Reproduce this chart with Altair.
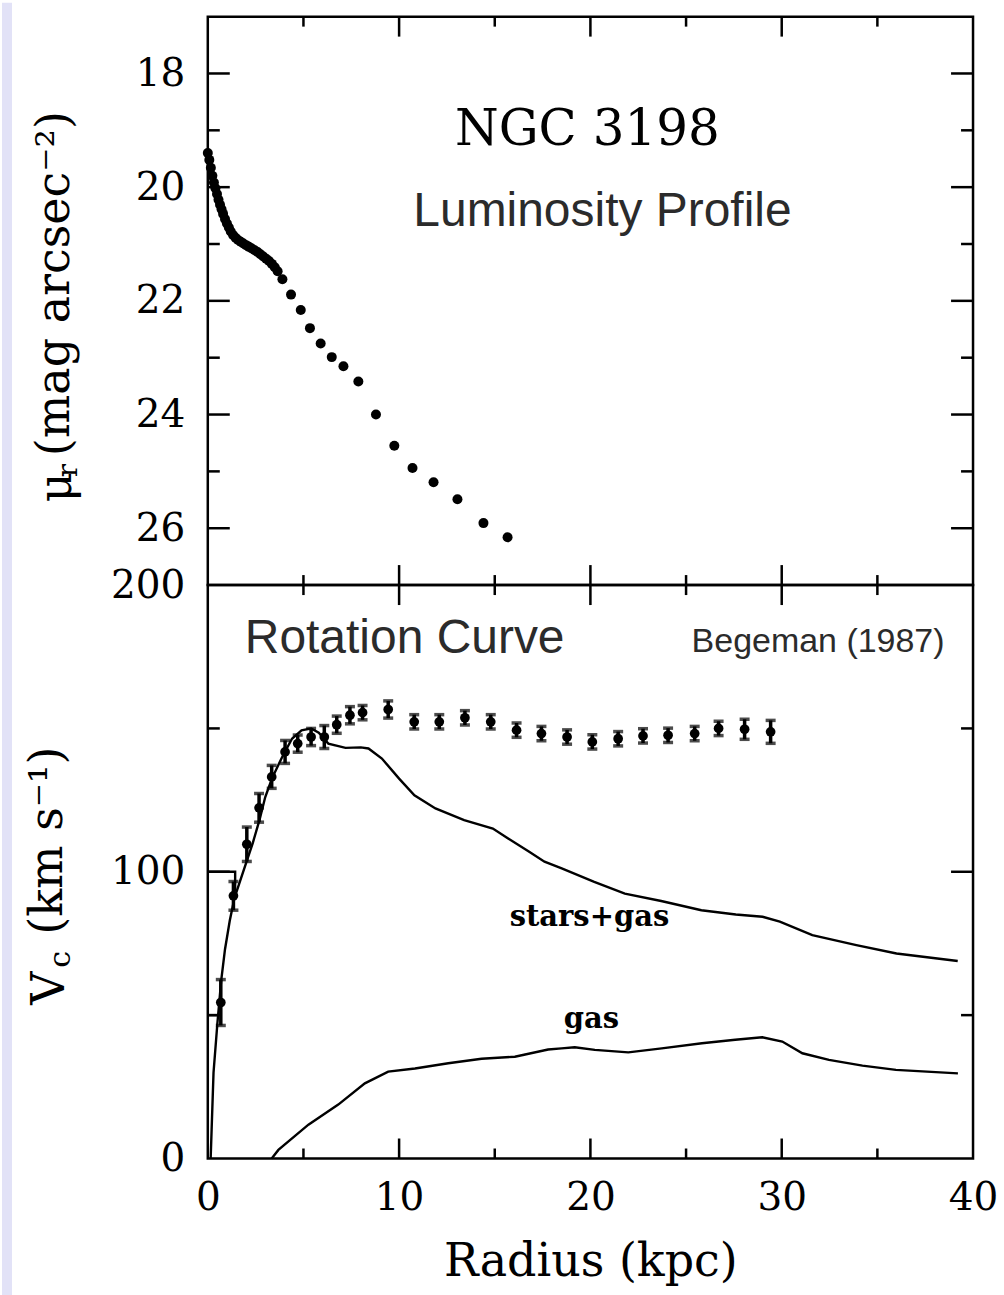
import altair as alt
import pandas as pd

# ---------------- data ----------------
# Luminosity profile (radius kpc, surface brightness mag/arcsec^2)
lum_r = [0.00, 0.08, 0.16, 0.24, 0.32, 0.40, 0.48, 0.56, 0.64, 0.72, 0.80, 0.90,
         1.00, 1.10, 1.20, 1.32, 1.45, 1.58, 1.72, 1.86, 2.00, 2.15, 2.30, 2.45,
         2.60, 2.75, 2.90, 3.05, 3.20, 3.35, 3.50, 3.65,
         3.90, 4.35, 4.86, 5.34, 5.90, 6.48, 7.09, 7.87, 8.79, 9.75, 10.70,
         11.80, 13.05, 14.41, 15.67]
lum_mu = [19.40, 19.52, 19.66, 19.80, 19.92, 20.02, 20.12, 20.22, 20.31, 20.39, 20.47, 20.56,
          20.64, 20.71, 20.78, 20.84, 20.89, 20.93, 20.96, 20.99, 21.02, 21.05, 21.08, 21.11,
          21.14, 21.18, 21.22, 21.26, 21.30, 21.35, 21.41, 21.48,
          21.62, 21.89, 22.16, 22.48, 22.75, 22.99, 23.15, 23.42, 24.00, 24.55, 24.94,
          25.19, 25.49, 25.91, 26.16]

# Rotation curve observations (radius kpc, velocity km/s, error km/s)
rc_r = [0.68, 1.34, 2.04, 2.68, 3.34, 4.04, 4.70, 5.40, 6.09, 6.74, 7.43, 8.09, 9.43,
        10.79, 12.10, 13.44, 14.79, 16.14, 17.44, 18.78, 20.10, 21.45, 22.75, 24.06,
        25.45, 26.70, 28.06, 29.42]
rc_v = [54.4, 91.6, 109.6, 122.3, 133.1, 141.8, 144.7, 147.0, 147.0, 151.3, 154.6, 155.5, 156.6,
        152.3, 152.3, 153.7, 152.3, 149.4, 148.2, 147.0, 145.3, 146.4, 147.4, 147.6,
        148.2, 150.0, 149.7, 148.8]
rc_err = [8, 5, 6, 5, 4, 4, 3, 3, 4, 3, 3, 2.5, 3,
          2.5, 2.5, 2.5, 2.5, 2.5, 2.5, 2.5, 2.5, 2.5, 2.5, 2.5,
          2.5, 2.5, 3.5, 4]

# Model curve: stars+gas
sg_r = [0.15, 0.20, 0.30, 0.50, 0.70, 0.90, 1.15, 1.40, 1.70, 2.00, 2.35, 2.70, 3.00, 3.35,
        3.85, 4.40, 4.90, 5.40, 5.80, 6.30, 7.20, 8.00, 8.40, 9.10, 10.00, 10.80, 11.90,
        13.40, 14.90, 15.70, 16.80, 17.60, 18.50, 20.20, 21.80, 23.70, 25.80, 27.60,
        29.00, 29.90, 31.60, 33.90, 36.00, 39.20]
sg_v = [0, 10, 30, 47, 62, 73, 83, 91, 97, 103, 110, 118, 126, 132.5,
        139.5, 146.4, 149.3, 150, 148.5, 144.7, 143.2, 143.4, 143, 139.5, 132.5, 126.7, 122.1,
        118, 115.1, 111.6, 107, 103.5, 101.2, 96.5, 92.4, 89.8, 86.6, 85.1,
        84.3, 82.6, 77.9, 74.4, 71.5, 68.9]

# Model curve: gas
gas_r = [3.34, 3.69, 5.26, 6.82, 8.21, 9.43, 10.83, 12.57, 14.31, 16.05, 17.79, 18.49,
         19.18, 20.23, 21.98, 23.73, 25.83, 27.57, 28.98, 30.03, 31.08, 32.47, 34.22,
         35.97, 39.21]
gas_v = [0, 3, 11.8, 18.8, 26.2, 30.3, 31.4, 33.2, 34.8, 35.5, 38.0, 38.4,
         38.8, 37.9, 37.0, 38.4, 40.2, 41.4, 42.3, 40.8, 36.7, 34.4, 32.4,
         30.9, 29.7]

# Small step segments near the centre
step_r = [0.0, 1.43, 1.43, 0.0, 0.55]
step_v = [100, 100, 93, 50, 50]
step_id = ["a", "a", "a", "b", "b"]

# Tick values
x_labels = [0, 10, 20, 30, 40]
x_major = [10, 20, 30]
x_minor = [5, 15, 25, 35]
mu_labels = [18, 20, 22, 24, 26]
mu_minor = [19, 21, 23, 25]
v_labels = [0, 100, 200]
v_major = [100]
v_minor = [50, 150]

# Annotations
top_texts = ["NGC 3198", "Luminosity Profile"]
top_text_r = [19.84, 20.63]
top_text_mu = [19.0, 20.43]
bot_texts = ["Rotation Curve", "Begeman (1987)", "stars+gas", "gas"]
bot_text_r = [10.29, 31.9, 19.95, 20.05]
bot_text_v = [181.2, 180.1, 84.3, 48.8]

# ---------------- layout ----------------
W, H1, H2 = 766, 569, 574
SERIF = "DejaVu Serif"
SANS = "Liberation Sans"
TITLE_SIZE = 46
LABEL_SIZE = 39

xscale = alt.Scale(domain=[0, 40], nice=False, zero=False)
mu_scale = alt.Scale(domain=[17, 27], reverse=True, nice=False, zero=False)
v_scale = alt.Scale(domain=[0, 200], nice=False, zero=False)

# Shared axis definitions (identical in every layer so they merge cleanly)
top_x_axis = alt.Axis(labels=False, ticks=False, domain=False, grid=False, title=None)
mu_axis = alt.Axis(values=mu_labels, ticks=False, tickSize=0, domain=False, grid=False,
                   labelPadding=23, labelFont=SERIF, labelFontSize=LABEL_SIZE,
                   labelColor="black", labelOverlap=False, title=None)
bot_x_axis = alt.Axis(values=x_labels, ticks=False, tickSize=0, domain=False, grid=False,
                      labelPadding=20, labelFont=SERIF, labelFontSize=LABEL_SIZE, labelColor="black",
                      labelFlush=False, labelOverlap=False, title="Radius (kpc)",
                      titleFont=SERIF, titleFontSize=TITLE_SIZE, titleFontWeight="normal",
                      titleColor="black", titlePadding=22)
v_axis = alt.Axis(values=v_labels, ticks=False, tickSize=0, domain=False, grid=False,
                  labelPadding=23, labelFont=SERIF, labelFontSize=LABEL_SIZE,
                  labelColor="black", labelOverlap=False, title=None)

one = pd.DataFrame({"k": [0]})


def x_tick_layers(H, xaxis):
    layers = []
    for vals, ln in ((x_major, 20), (x_minor, 10)):
        df = pd.DataFrame({"t": vals})
        base = alt.Chart(df).mark_rule(color="black", strokeWidth=2.5)
        layers.append(base.encode(x=alt.X("t:Q", scale=xscale, axis=xaxis),
                                  y=alt.value(0), y2=alt.value(ln)))
        layers.append(base.encode(x=alt.X("t:Q", scale=xscale, axis=xaxis),
                                  y=alt.value(H - ln), y2=alt.value(H)))
    return layers


def y_tick_layers(major, minor, yscale, yaxis):
    layers = []
    for vals, ln in ((major, 22), (minor, 12)):
        df = pd.DataFrame({"t": vals})
        base = alt.Chart(df).mark_rule(color="black", strokeWidth=2.5)
        layers.append(base.encode(y=alt.Y("t:Q", scale=yscale, axis=yaxis),
                                  x=alt.value(0), x2=alt.value(ln)))
        layers.append(base.encode(y=alt.Y("t:Q", scale=yscale, axis=yaxis),
                                  x=alt.value(W - ln), x2=alt.value(W)))
    return layers


def rot_text(txt, size, xpix, ypix):
    return alt.Chart(one).mark_text(font=SERIF, fontSize=size, angle=270, align="left",
                                    baseline="middle", color="black", text=txt).encode(
        x=alt.value(xpix), y=alt.value(ypix))


# ---------------- top panel ----------------
lum_df = pd.DataFrame({"r": lum_r, "mu": lum_mu})
lum_pts = alt.Chart(lum_df).mark_circle(color="black", size=100, opacity=1).encode(
    x=alt.X("r:Q", scale=xscale, axis=top_x_axis),
    y=alt.Y("mu:Q", scale=mu_scale, axis=mu_axis),
)

top_txt_df = pd.DataFrame({"r": top_text_r, "mu": top_text_mu, "t": top_texts})


def top_text(idx, **kw):
    return alt.Chart(top_txt_df.iloc[[idx]]).mark_text(baseline="middle", align="center", **kw).encode(
        x=alt.X("r:Q", scale=xscale, axis=top_x_axis),
        y=alt.Y("mu:Q", scale=mu_scale, axis=mu_axis), text="t:N")


ngc = top_text(0, font=SERIF, fontSize=50, color="black")
lumtitle = top_text(1, font=SANS, fontSize=48, color="#2b2b2b")

strip = alt.Chart(one).mark_rect(color="#e2e2f7").encode(
    x=alt.value(-206), x2=alt.value(-196), y=alt.value(-14), y2=alt.value(1281))

top = alt.layer(
    strip, lum_pts,
    *x_tick_layers(H1, top_x_axis), *y_tick_layers(mu_labels, mu_minor, mu_scale, mu_axis),
    ngc, lumtitle,
    rot_text("μ", TITLE_SIZE, -151, 486),
    rot_text("r", 28, -139, 461),
    rot_text("(mag arcsec⁻²)", TITLE_SIZE, -153, 440),
).properties(width=W, height=H1)

# ---------------- bottom panel ----------------
rc_df = pd.DataFrame({"r": rc_r, "v": rc_v, "e": rc_err})
rc_df["lo"] = rc_df["v"] - rc_df["e"]
rc_df["hi"] = rc_df["v"] + rc_df["e"]

sg_df = pd.DataFrame({"r": sg_r, "v": sg_v, "i": range(len(sg_r))})
gas_df = pd.DataFrame({"r": gas_r, "v": gas_v, "i": range(len(gas_r))})
step_df = pd.DataFrame({"r": step_r, "v": step_v, "g": step_id, "i": range(len(step_r))})


def bx(field="r:Q"):
    return alt.X(field, scale=xscale, axis=bot_x_axis)


def by(field="v:Q"):
    return alt.Y(field, scale=v_scale, axis=v_axis)


sg_line = alt.Chart(sg_df).mark_line(color="black", strokeWidth=2.4).encode(
    x=bx(), y=by(), order="i:Q")
gas_line = alt.Chart(gas_df).mark_line(color="black", strokeWidth=2.4).encode(
    x=bx(), y=by(), order="i:Q")
step_line = alt.Chart(step_df).mark_line(color="black", strokeWidth=2.4).encode(
    x=bx(), y=by(), detail="g:N", order="i:Q")

err_rule = alt.Chart(rc_df).mark_rule(color="black", strokeWidth=3.5).encode(
    x=bx(), y=by("lo:Q"), y2="hi:Q")
cap_lo = alt.Chart(rc_df).mark_tick(color="black", orient="horizontal", size=10, thickness=3.5).encode(
    x=bx(), y=by("lo:Q"))
cap_hi = alt.Chart(rc_df).mark_tick(color="black", orient="horizontal", size=10, thickness=3.5).encode(
    x=bx(), y=by("hi:Q"))
rc_pts = alt.Chart(rc_df).mark_circle(color="black", size=95, opacity=1).encode(
    x=bx(), y=by())

bot_txt_df = pd.DataFrame({"r": bot_text_r, "v": bot_text_v, "t": bot_texts})


def bot_text(idx, **kw):
    return alt.Chart(bot_txt_df.iloc[[idx]]).mark_text(baseline="middle", align="center", **kw).encode(
        x=bx(), y=by(), text="t:N")


rot_title = bot_text(0, font=SANS, fontSize=48, color="#2b2b2b")
beg = bot_text(1, font=SANS, fontSize=34, color="#2b2b2b")
sg_lab = bot_text(2, font=SERIF, fontSize=29, fontWeight="bold", color="black")
gas_lab = bot_text(3, font=SERIF, fontSize=29, fontWeight="bold", color="black")

bottom = alt.layer(
    sg_line, gas_line, step_line, err_rule, cap_lo, cap_hi, rc_pts,
    *x_tick_layers(H2, bot_x_axis), *y_tick_layers(v_major, v_minor, v_scale, v_axis),
    rot_title, beg, sg_lab, gas_lab,
    rot_text("V", TITLE_SIZE, -158, 420),
    rot_text("c", 30, -147, 383),
    rot_text("(km s⁻¹)", TITLE_SIZE, -160, 350),
).properties(width=W, height=H2)

chart = alt.vconcat(top, bottom, spacing=0, bounds="flush").properties(
    padding={"left": 0, "top": 0, "right": 4, "bottom": 0}, background="white"
).configure_view(stroke="black", strokeWidth=2.5)

chart.save("out.html", embed_options={"renderer": "svg", "actions": False})
